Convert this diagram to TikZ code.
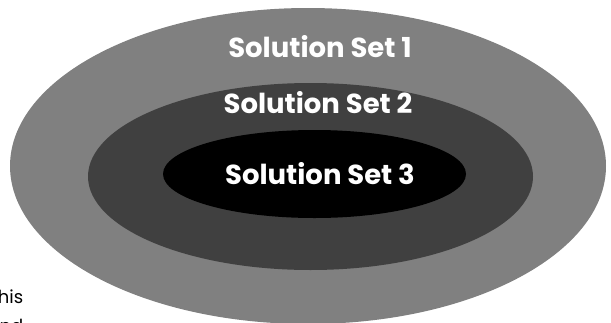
\documentclass[tikz,border=0pt]{standalone}
\usepackage{fontspec}
\setmainfont{Poppins}
\definecolor{outergrey}{HTML}{808080}
\definecolor{midgrey}{HTML}{404040}
\begin{document}
\begin{tikzpicture}[x=1pt,y=-1pt,
  setlabel/.style={text=white,font=\bfseries\fontsize{27.5}{32}\selectfont,inner sep=0pt,anchor=base},
  sidetext/.style={text=black,font=\fontsize{18}{22}\selectfont,inner sep=0pt,anchor=base east}]
\useasboundingbox (0,0) rectangle (611,322);
\clip (0,0) rectangle (611,322);
\fill[outergrey] (308,166) ellipse [x radius=298, y radius=158];
\fill[midgrey] (310.5,176.5) ellipse [x radius=222.5, y radius=93.5];
\fill[black] (314.5,174) ellipse [x radius=151.5, y radius=44];
\node[setlabel] (s1) at (320,57) {Solution Set 1};
\node[setlabel] (s2) at (318,113) {Solution Set 2};
\node[setlabel] (s3) at (320,184) {Solution Set 3};
\node[sidetext] (t1) at (23.5,303) {this};
\node[sidetext] (t2) at (23.5,332) {and};
\end{tikzpicture}
\end{document}
